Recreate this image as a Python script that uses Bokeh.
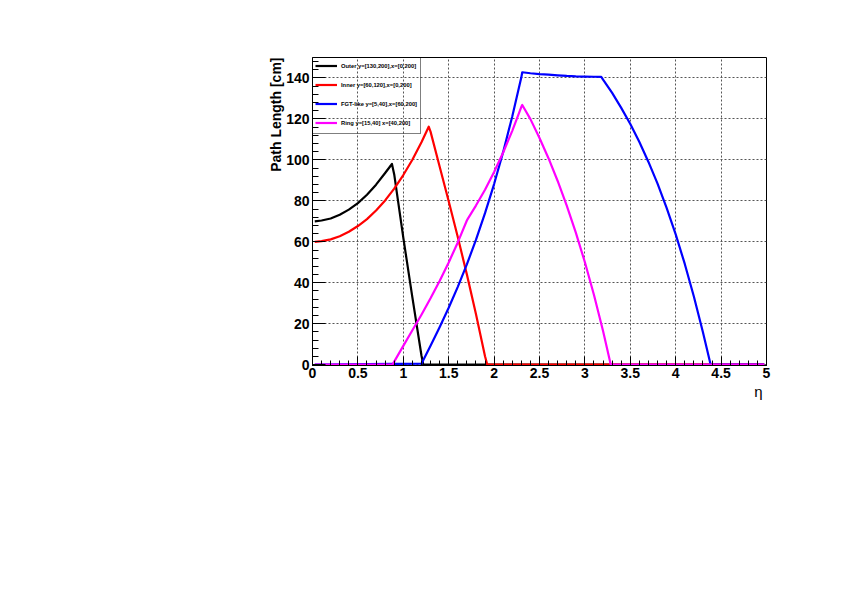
from bokeh.plotting import figure
from bokeh.models import (Range1d, FixedTicker, CustomJSTickFormatter, Title,
                          Legend, LegendItem)
from bokeh.embed import file_html
from bokeh.resources import INLINE

# ---- data ----
ETA_OUTER = [0.025, 0.1, 0.2, 0.3, 0.4, 0.5, 0.6, 0.7, 0.8, 0.875, 0.9, 1.0, 1.1, 1.2, 1.22, 4.975]
LEN_OUTER = [70.0, 70.4, 71.4, 73.2, 75.7, 78.9, 83.0, 87.9, 93.6, 98.0, 92.9, 62.0, 32.9, 4.5, 0.0, 0.0]

ETA_INNER = [0.025, 0.1, 0.2, 0.3, 0.4, 0.5, 0.6, 0.7, 0.8, 0.9, 1.0, 1.1, 1.2, 1.28,
             1.3, 1.4, 1.5, 1.6, 1.7, 1.8, 1.9, 1.925, 4.975]
LEN_INNER = [60.0, 60.3, 61.2, 62.7, 64.9, 67.7, 71.1, 75.3, 80.2, 86.0, 92.6, 100.1, 108.6, 116.2,
             113.8, 96.8, 79.8, 62.3, 44.1, 24.8, 4.1, 0.0, 0.0]

ETA_FGT = [0.025, 1.2, 1.3, 1.4, 1.5, 1.6, 1.7, 1.8, 1.9, 2.0, 2.1, 2.2, 2.3, 2.31,
           2.4, 2.5, 2.6, 2.7, 2.8, 2.9, 3.0, 3.1, 3.18, 3.2, 3.3, 3.4, 3.5, 3.6,
           3.7, 3.8, 3.9, 4.0, 4.1, 4.2, 4.3, 4.385, 4.975]
LEN_FGT = [0.0, 0.5, 9.2, 18.3, 27.8, 38.0, 49.0, 60.9, 74.0, 88.2, 103.9, 121.2, 140.3, 142.8,
           142.3, 141.9, 141.6, 141.3, 141.0, 140.8, 140.7, 140.6, 140.5, 139.2, 132.7, 125.4, 117.5, 108.7,
           99.0, 88.4, 76.6, 63.6, 49.2, 33.3, 15.8, 0.0, 0.0]

ETA_RING = [0.025, 0.88, 0.9, 1.0, 1.1, 1.2, 1.3, 1.4, 1.5, 1.6, 1.7, 1.71, 1.8, 1.9, 2.0,
            2.1, 2.2, 2.3, 2.31, 2.4, 2.5, 2.6, 2.7, 2.8, 2.9, 3.0, 3.1, 3.2, 3.285, 4.975]
LEN_RING = [0.0, 0.0, 1.5, 9.2, 16.8, 24.4, 32.4, 40.9, 49.9, 59.7, 70.4, 71.2, 77.7, 85.4, 94.1,
            103.6, 114.2, 125.9, 126.8, 119.9, 110.7, 100.7, 89.7, 77.7, 64.5, 50.0, 34.0, 16.4, 0.0, 0.0]

SERIES_LABELS = ["Outer y=[130,200],x=[0,200]", "Inner y=[60,120],x=[0,200]",
                 "FGT-like y=[5,40],x=[60,200]", "Ring y=[15,40] x=[40,200]"]
SERIES_COLORS = ["#000000", "#ff0000", "#0000ff", "#ff00ff"]

X_TICKS = [0, 0.5, 1, 1.5, 2, 2.5, 3, 3.5, 4, 4.5, 5]
Y_TICKS = [0, 20, 40, 60, 80, 100, 120, 140]
X_MINOR = [round(0.1 * i, 2) for i in range(51)]
Y_MINOR = list(range(0, 151, 4))

FONT = "Liberation Sans"

p = figure(frame_width=454, frame_height=308,
           min_border_left=312, min_border_right=76, min_border_top=57, min_border_bottom=230,
           x_range=Range1d(0, 5), y_range=Range1d(-0.4, 150),
           output_backend="svg", toolbar_location=None)
p.background_fill_color = "white"
p.border_fill_color = "white"
p.outline_line_color = "black"
p.outline_line_width = 1

fmt = CustomJSTickFormatter(code="return String(tick);")
p.xaxis.ticker = FixedTicker(ticks=X_TICKS, minor_ticks=X_MINOR)
p.yaxis.ticker = FixedTicker(ticks=Y_TICKS, minor_ticks=Y_MINOR)
p.xaxis.formatter = fmt
p.yaxis.formatter = fmt
for ax in (p.xaxis, p.yaxis):
    ax.axis_line_color = "black"
    ax.major_tick_line_color = "black"
    ax.minor_tick_line_color = "black"
    ax.major_tick_out = 0
    ax.minor_tick_out = 0
    ax.major_label_text_font = FONT
    ax.major_label_text_font_style = "bold"
    ax.major_label_text_font_size = "14px"
    ax.major_label_text_color = "black"
p.xaxis.major_tick_in = 9
p.xaxis.minor_tick_in = 5
p.yaxis.major_tick_in = 13
p.yaxis.minor_tick_in = 6
p.xaxis.major_label_standoff = 2
p.yaxis.major_label_standoff = 3

for g in (p.xgrid, p.ygrid):
    g.grid_line_color = "#555555"
    g.grid_line_dash = "2 2"
    g.grid_line_width = 1

renderers = []
for xs, ys, col in [(ETA_OUTER, LEN_OUTER, SERIES_COLORS[0]),
                    (ETA_INNER, LEN_INNER, SERIES_COLORS[1]),
                    (ETA_FGT, LEN_FGT, SERIES_COLORS[2]),
                    (ETA_RING, LEN_RING, SERIES_COLORS[3])]:
    r = p.line(xs, ys, line_color=col, line_width=2.2, line_join="round")
    renderers.append(r)

box = p.quad(left=[], right=[], top=[], bottom=[], fill_alpha=0, line_color="#33dd33", line_width=1)

items = [LegendItem(label=SERIES_LABELS[0], renderers=[renderers[0]]),
         LegendItem(label=SERIES_LABELS[1], renderers=[renderers[1]]),
         LegendItem(label=SERIES_LABELS[2], renderers=[renderers[2]]),
         LegendItem(label=SERIES_LABELS[3], renderers=[box, renderers[3]])]
legend = Legend(items=items, location=(-1, 231), margin=0, padding=3, spacing=4,
                glyph_width=22, glyph_height=15, label_height=15, label_standoff=4,
                label_text_font=FONT, label_text_font_style="bold", label_text_font_size="5.8px",
                label_text_color="black",
                background_fill_alpha=0, border_line_color="black", border_line_width=1)
p.add_layout(legend, "center")

ytitle = Title(text="Path Length [cm]", align="right", standoff=0, offset=0,
               text_font=FONT, text_font_style="bold", text_font_size="14px", text_color="black")
p.add_layout(ytitle, "left")
xtitle = Title(text="η", align="right", standoff=0, offset=4,
               text_font=FONT, text_font_style="normal", text_font_size="15px", text_color="black")
p.add_layout(xtitle, "below")

open("out.html", "w").write(file_html(p, INLINE))
